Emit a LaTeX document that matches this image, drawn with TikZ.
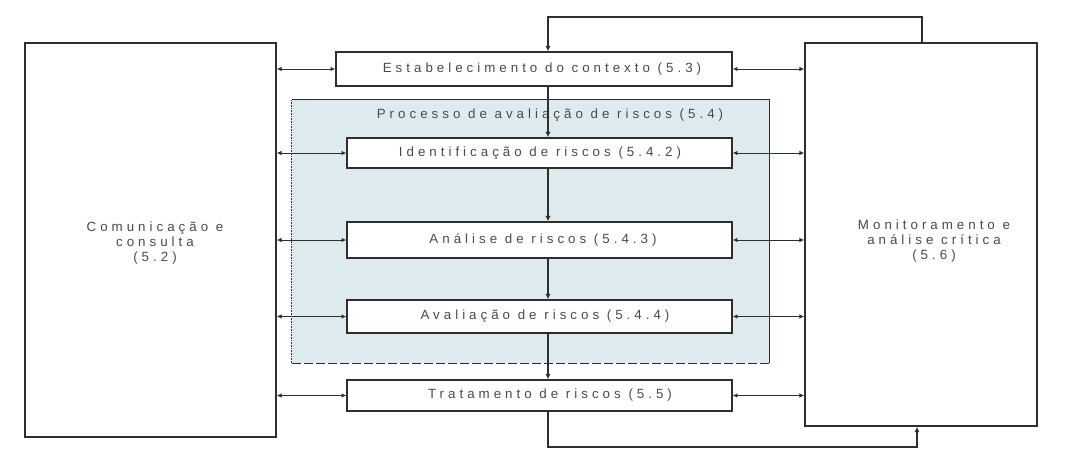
\documentclass[tikz,border=0pt]{standalone}
\usepackage{fontspec}
\setmainfont{Liberation Sans}[LetterSpace=30]
\usetikzlibrary{arrows.meta}
\definecolor{edge}{HTML}{2E2E2E}
\definecolor{ink}{HTML}{4A4A4A}
\definecolor{panel}{HTML}{DDEBEE}
\begin{document}
\begin{tikzpicture}[x=0.75pt,y=-0.75pt,
  every node/.style={font=\fontsize{10pt}{11pt}\selectfont, text=ink, inner sep=0pt},
  bigbox/.style={draw=edge, line width=1.3pt, fill=white, align=center},
  stagebox/.style={draw=edge, line width=1.2pt, fill=white},
  panelbox/.style={fill=panel},
  flow/.style={draw=edge, line width=1.1pt, -{Latex[length=4pt,width=4pt]}},
  link/.style={draw=edge, line width=0.7pt, {Latex[length=3.5pt,width=3.5pt]}-{Latex[length=3.5pt,width=3.5pt]}}]
\useasboundingbox (0,0) rectangle (1070,458);
\fill[white] (0,0) rectangle (1070,458);

% side blocks
\node[bigbox, minimum width=188.25pt, minimum height=295.5pt] (comm) at (150.5,240) {};
\node[bigbox, minimum width=174pt, minimum height=287.25pt] (mon) at (921,234.5) {};
\node (commtxt) at (155,243) [align=center] {Comunicação e\\consulta\\(5.2)};
\node (montxt) at (934,241) [align=center] {Monitoramento e\\análise crítica\\(5.6)};

% risk assessment panel: solid top and right, dashed bottom, dotted left
\node[panelbox, minimum width=357.75pt, minimum height=197.25pt] (proc) at (530.5,231.5) {};
\draw[edge, line width=0.8pt] (proc.south east) -- (proc.north east) -- (proc.north west);
\draw[edge, line width=0.9pt, dash pattern=on 7pt off 2pt] (proc.south west) -- (proc.south east);
\draw[edge, line width=1pt, dash pattern=on 1.2pt off 0.8pt] (proc.north west) -- (proc.south west);
\node (proctxt) at (550,115) {Processo de avaliação de riscos (5.4)};

% process steps
\node[stagebox, minimum width=297pt, minimum height=25.5pt] (estab) at (534,69) {};
\node[stagebox, minimum width=288.75pt, minimum height=22.5pt] (ident) at (539.5,153) {};
\node[stagebox, minimum width=288.75pt, minimum height=27pt] (anal) at (539.5,240) {};
\node[stagebox, minimum width=288.75pt, minimum height=24.75pt] (aval) at (539.5,316.5) {};
\node[stagebox, minimum width=288.75pt, minimum height=23.25pt] (trat) at (539.5,395.5) {};
\node (estabtxt) at (542,69) {Estabelecimento do contexto (5.3)};
\node (identtxt) at (540,153) {Identificação de riscos (5.4.2)};
\node (analtxt) at (543,240) {Análise de riscos (5.4.3)};
\node (avaltxt) at (545,316.5) {Avaliação de riscos (5.4.4)};
\node (trattxt) at (550,395.5) {Tratamento de riscos (5.5)};

% main flow axis and loop corners
\coordinate (axis) at (548,0);
\coordinate (topY) at (0,17);
\coordinate (botY) at (0,447);
\coordinate (retX) at (922,0);
\coordinate (fbX) at (917,0);

\draw[flow] (estab.south -| axis) -- (ident.north -| axis);
\draw[flow] (ident.south -| axis) -- (anal.north -| axis);
\draw[flow] (anal.south -| axis) -- (aval.north -| axis);
\draw[flow] (aval.south -| axis) -- (trat.north -| axis);

% feedback loops
\draw[flow] (mon.north -| retX) -- (topY -| retX) -- (topY -| axis) -- (estab.north -| axis);
\draw[flow] (trat.south -| axis) -- (botY -| axis) -- (botY -| fbX) -- (mon.south -| fbX);

% exchanges with the side blocks
\foreach \s in {estab,ident,anal,aval,trat}{
  \draw[link] (\s.west -| comm.east) -- (\s.west);
  \draw[link] (\s.east) -- (\s.east -| mon.west);
}
\end{tikzpicture}
\end{document}
